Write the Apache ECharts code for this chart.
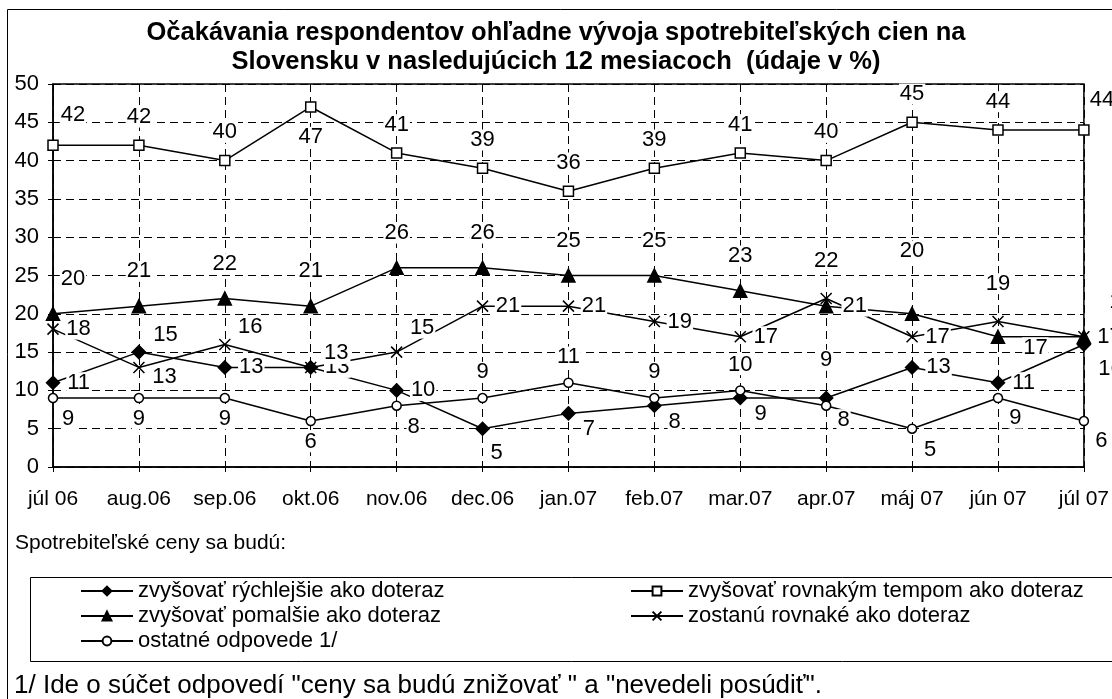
<!DOCTYPE html>
<html>
<head>
<meta charset="utf-8">
<title>Očakávania respondentov</title>
<script src="https://cdn.jsdelivr.net/npm/echarts@6/dist/echarts.min.js"></script>
<style>
    html, body { margin: 0; padding: 0; background: #fff; }
    #main-info { width: 1112px; height: 699px; }
</style>
</head>
<body>
<div id="main-info"></div>
<script>
// months on the x axis
var months = ['júl 06', 'aug.06', 'sep.06', 'okt.06', 'nov.06', 'dec.06', 'jan.07',
              'feb.07', 'mar.07', 'apr.07', 'máj 07', 'jún 07', 'júl 07'];

// answers in %
var fasterValues   = [11, 15, 13, 13, 10, 5, 7, 8, 9, 9, 13, 11, 16];
var samePaceValues = [42, 42, 40, 47, 41, 39, 36, 39, 41, 40, 45, 44, 44];
var slowerValues   = [20, 21, 22, 21, 26, 26, 25, 25, 23, 21, 20, 17, 17];
var unchangedValues = [18, 13, 16, 13, 15, 21, 21, 19, 17, 22, 17, 19, 17];
var otherValues    = [9, 9, 9, 6, 8, 9, 11, 9, 10, 8, 5, 9, 6];

var yTicks = [0, 5, 10, 15, 20, 25, 30, 35, 40, 45, 50];

var seriesNames = [
    'zvyšovať rýchlejšie ako doteraz',
    'zvyšovať rovnakým tempom ako doteraz',
    'zvyšovať pomalšie ako doteraz',
    'zostanú rovnaké ako doteraz',
    'ostatné odpovede 1/'
];

var FONT = '"Liberation Sans", Arial, sans-serif';

// label placement tweaks per point (only where excel moved a label by hand)
function withLabels(values, tweaks) {
    return values.map(function (v, i) {
        if (tweaks[i]) {
            return { value: v, label: tweaks[i] };
        }
        return v;
    });
}

function baseLabel(pos, dist) {
    return {
        show: true,
        position: pos,
        distance: dist,
        color: '#000',
        fontFamily: FONT,
        fontSize: 22,
        lineHeight: 21,
        backgroundColor: '#fff',
        padding: [0, 1]
    };
}

function lineSeries(name, values, symbol, size, fill, label, tweaks) {
    return {
        name: name,
        type: 'line',
        data: withLabels(values, tweaks),
        symbol: symbol,
        symbolSize: size,
        lineStyle: { color: '#000', width: 1.5 },
        itemStyle: { color: fill, borderColor: '#000', borderWidth: 1.5 },
        label: label,
        animation: false
    };
}

var myChart = echarts.init(document.getElementById('main-info'));

var legendText = { color: '#000', fontSize: 22, lineHeight: 22, fontFamily: FONT };

var option = {
    backgroundColor: '#fff',
    textStyle: { fontFamily: FONT },
    title: {
        text: 'Očakávania respondentov ohľadne vývoja spotrebiteľských cien na\nSlovensku v nasledujúcich 12 mesiacoch  (údaje v %)',
        left: 'center',
        top: 18,
        padding: 0,
        textStyle: {
            fontFamily: FONT,
            fontSize: 25.5,
            fontWeight: 'bold',
            lineHeight: 29,
            color: '#000'
        }
    },
    grid: {
        left: 53,
        right: 25,
        top: 84,
        bottom: 232,
        show: true,
        borderColor: '#000',
        borderWidth: 1.5,
        backgroundColor: 'transparent'
    },
    xAxis: {
        type: 'category',
        data: months,
        boundaryGap: false,
        axisLine: { lineStyle: { color: '#000', width: 1.5 } },
        axisTick: { show: true, length: 5, lineStyle: { color: '#000' } },
        axisLabel: { color: '#000', fontSize: 21, fontFamily: FONT, margin: 22, interval: 0 },
        splitLine: { show: true, lineStyle: { color: '#000', type: [8, 5], width: 1 } }
    },
    yAxis: {
        type: 'value',
        min: yTicks[0],
        max: yTicks[yTicks.length - 1],
        interval: yTicks[1] - yTicks[0],
        axisLine: { show: true, lineStyle: { color: '#000', width: 1.5 } },
        axisTick: { show: true, length: 5, lineStyle: { color: '#000' } },
        axisLabel: { color: '#000', fontSize: 22, fontFamily: FONT, margin: 14 },
        splitLine: { show: true, lineStyle: { color: '#000', type: [8, 5], width: 1 } }
    },
    legend: [
        {
            data: [seriesNames[0], seriesNames[2], seriesNames[4]],
            orient: 'vertical',
            left: 80,
            top: 580,
            padding: 0,
            itemWidth: 52,
            itemHeight: 11,
            itemGap: 3,
            textStyle: legendText,
            selectedMode: false
        },
        {
            data: [seriesNames[1], seriesNames[3]],
            orient: 'vertical',
            left: 630,
            top: 580,
            padding: 0,
            itemWidth: 52,
            itemHeight: 11,
            itemGap: 3,
            textStyle: legendText,
            selectedMode: false
        }
    ],
    graphic: [
        {
            type: 'rect',
            silent: true,
            shape: { x: 7.5, y: 9.5, width: 1200, height: 800 },
            style: { fill: 'none', stroke: '#000', lineWidth: 1 },
            z: -1
        },
        {
            type: 'rect',
            silent: true,
            shape: { x: 30.5, y: 577.5, width: 1200, height: 84 },
            style: { fill: 'none', stroke: '#000', lineWidth: 1 },
            z: -1
        },
        {
            type: 'text',
            left: 15,
            top: 533,
            style: { text: 'Spotrebiteľské ceny sa budú:', fill: '#000', font: '21px ' + FONT }
        },
        {
            type: 'text',
            left: 14,
            top: 673,
            style: { text: '1/ Ide o súčet odpovedí "ceny sa budú znižovať " a "nevedeli posúdiť".', fill: '#000', font: '26px ' + FONT }
        }
    ],
    series: [
        lineSeries(seriesNames[0], fasterValues, 'diamond', 13, '#000',
            baseLabel('right', 6), {
                1: { offset: [0, -17] },
                5: { position: 'bottom', offset: [14, 0] },
                6: { offset: [0, 16] },
                7: { offset: [0, 16] },
                8: { offset: [0, 16] },
                9: { position: 'top', distance: 20 },
                12: { offset: [0, 24] }
            }),
        lineSeries(seriesNames[1], samePaceValues, 'rect', 10, '#fff',
            baseLabel('top', 12), {
                0: { offset: [20, -2] },
                3: { position: 'bottom', distance: 14 },
                12: { offset: [18, -2] }
            }),
        lineSeries(seriesNames[2], slowerValues, 'triangle', 13, '#000',
            baseLabel('top', 17), {
                0: { offset: [20, 0] },
                9: { position: 'right', distance: 8 },
                10: { distance: 45 },
                11: { position: 'right', offset: [0, 11] },
                12: { position: 'right', offset: [0, -35] }
            }),
        lineSeries(seriesNames[3], unchangedValues, 'path://M0,0L10,10M10,0L0,10', 11, '#000',
            baseLabel('right', 6), {
                1: { offset: [0, 10] },
                2: { offset: [0, -18] },
                3: { offset: [0, -14] },
                4: { offset: [0, -24] },
                9: { position: 'top', distance: 21 },
                11: { position: 'top', distance: 21 }
            }),
        lineSeries(seriesNames[4], otherValues, 'circle', 9, '#fff',
            baseLabel('bottom', 5), {
                0: { offset: [15, 0] },
                4: { offset: [17, 0] },
                5: { position: 'top', distance: 10 },
                6: { position: 'top', distance: 10 },
                7: { position: 'top', distance: 10 },
                8: { position: 'top', distance: 10 },
                9: { position: 'right', offset: [0, 14] },
                10: { offset: [18, 0] },
                11: { position: 'right', offset: [0, 20] },
                12: { position: 'right', offset: [0, 20] }
            })
    ]
};

myChart.setOption(option);
</script>
</body>
</html>
